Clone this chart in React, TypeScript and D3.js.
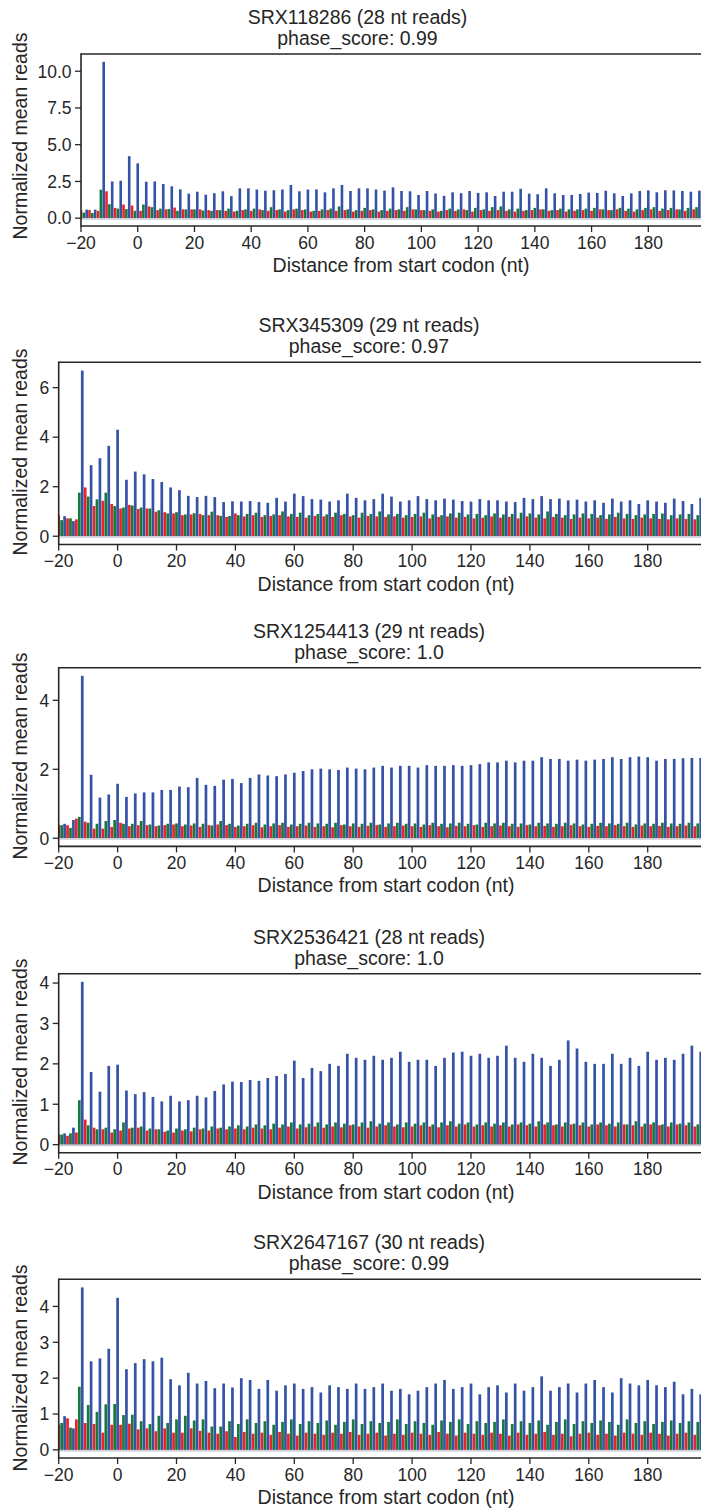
import React from "react";
import * as d3 from "d3";

// ---------- data ----------
const X_MIN = -20;
const X_MAX = 200;
const X_TICKS = [-20, 0, 20, 40, 60, 80, 100, 120, 140, 160, 180];
const FRAME_START = [-18, -20, -19]; // frame 0 (blue), frame 1 (red), frame 2 (green)

const TITLES = [
  "SRX118286 (28 nt reads)",
  "SRX345309 (29 nt reads)",
  "SRX1254413 (29 nt reads)",
  "SRX2536421 (28 nt reads)",
  "SRX2647167 (30 nt reads)",
];
const PHASE_SCORES = ["0.99", "0.97", "1.0", "1.0", "0.99"];

const Y_TICKS_1 = [0, 2.5, 5, 7.5, 10];
const Y_TICKS_2 = [0, 2, 4, 6];
const Y_TICKS_3 = [0, 2, 4];
const Y_TICKS_4 = [0, 1, 2, 3, 4];
const Y_TICKS_5 = [0, 1, 2, 3, 4];

// SRX118286
const P1_BLUE = [
  0.58, 0.58, 10.64, 2.5, 2.55, 4.22, 3.73, 2.48, 2.5, 2.33,
  2.17, 1.96, 1.67, 1.8, 1.6, 1.7, 1.83, 1.5, 2.03, 2.03,
  1.95, 1.87, 1.9, 1.95, 2.26, 1.83, 1.95, 1.96, 1.76, 2.03,
  2.26, 1.85, 2.03, 2.03, 1.95, 1.88, 2.1, 1.85, 1.83, 1.58,
  1.85, 1.68, 1.52, 1.76, 1.7, 1.85, 1.72, 1.76, 1.51, 1.8,
  1.8, 2.0, 1.67, 1.63, 2.03, 1.69, 1.58, 1.58, 1.65, 1.74,
  1.72, 1.87, 1.69, 1.51, 1.69, 1.85, 1.89, 1.76, 1.9, 1.89,
  1.85, 1.8, 1.87,
];
const P1_RED = [
  0.55, 0.55, 0.5, 1.83, 0.7, 0.93, 0.86, 0.5, 0.8, 0.55,
  0.6, 0.72, 0.6, 0.6, 0.6, 0.55, 0.55, 0.5, 0.45, 0.55,
  0.5, 0.6, 0.5, 0.55, 0.45, 0.6, 0.55, 0.45, 0.5, 0.55,
  0.5, 0.55, 0.45, 0.5, 0.55, 0.45, 0.5, 0.55, 0.5, 0.6,
  0.55, 0.5, 0.45, 0.55, 0.5, 0.6, 0.45, 0.55, 0.5, 0.55,
  0.5, 0.45, 0.5, 0.55, 0.6, 0.5, 0.55, 0.45, 0.5, 0.55,
  0.5, 0.6, 0.55, 0.6, 0.5, 0.45, 0.55, 0.6, 0.5, 0.55,
  0.6, 0.5, 0.6,
];
const P1_GREEN = [
  0.38, 0.35, 1.94, 0.95, 0.65, 0.62, 0.5, 0.93, 0.75, 0.65,
  0.62, 0.5, 0.6, 0.6, 0.52, 0.5, 0.55, 0.65, 0.5, 0.6,
  0.65, 0.55, 0.75, 0.6, 0.55, 0.65, 0.6, 0.5, 0.6, 0.65,
  0.8, 0.6, 0.55, 0.7, 0.6, 0.55, 0.65, 0.6, 0.75, 0.6,
  0.55, 0.6, 0.5, 0.65, 0.6, 0.55, 0.7, 0.6, 0.75, 0.8,
  0.6, 0.65, 0.55, 0.7, 0.6, 0.55, 0.65, 0.6, 0.6, 0.65,
  0.7, 0.6, 0.55, 0.7, 0.65, 0.6, 0.7, 0.75, 0.65, 0.7,
  0.6, 0.7, 0.75,
];

// SRX345309
const P2_BLUE = [
  0.81, 0.61, 6.69, 2.87, 3.15, 3.65, 4.3, 2.28, 2.61, 2.5,
  2.31, 2.19, 1.97, 1.86, 1.63, 1.58, 1.63, 1.58, 1.38, 1.41,
  1.4, 1.42, 1.38, 1.35, 1.55, 1.4, 1.72, 1.62, 1.5, 1.48,
  1.4, 1.45, 1.72, 1.55, 1.45, 1.5, 1.72, 1.6, 1.4, 1.45,
  1.62, 1.5, 1.45, 1.52, 1.48, 1.42, 1.4, 1.5, 1.45, 1.45,
  1.4, 1.38, 1.55, 1.5, 1.62, 1.5, 1.52, 1.45, 1.48, 1.4,
  1.45, 1.35, 1.52, 1.4, 1.45, 1.3, 1.45, 1.4, 1.35, 1.52,
  1.42, 1.3, 1.55,
];
const P2_RED = [
  0.85, 0.72, 0.68, 1.97, 1.22, 1.43, 1.3, 1.12, 1.26, 1.1,
  1.12, 0.99, 0.97, 0.92, 0.85, 0.88, 0.9, 0.85, 0.85, 0.78,
  0.92, 0.8, 0.85, 0.78, 0.82, 0.85, 0.8, 0.78, 0.75, 0.82,
  0.8, 0.78, 0.85, 0.8, 0.75, 0.82, 0.8, 0.78, 0.8, 0.75,
  0.78, 0.8, 0.72, 0.78, 0.8, 0.75, 0.78, 0.72, 0.75, 0.8,
  0.75, 0.78, 0.72, 0.8, 0.75, 0.72, 0.78, 0.75, 0.7, 0.75,
  0.72, 0.75, 0.7, 0.78, 0.72, 0.7, 0.75, 0.72, 0.7, 0.68,
  0.72, 0.7, 0.68,
];
const P2_GREEN = [
  0.65, 0.72, 1.76, 1.6, 1.49, 1.76, 1.22, 1.16, 1.24, 1.16,
  1.12, 1.05, 0.92, 0.97, 0.88, 0.93, 0.85, 0.99, 0.82, 0.82,
  0.85, 0.9, 0.95, 0.85, 0.88, 1.0, 0.9, 0.95, 0.85, 0.9,
  0.88, 0.95, 0.9, 0.85, 0.95, 0.9, 1.0, 0.88, 0.9, 0.85,
  0.9, 0.95, 0.88, 0.85, 0.92, 0.95, 0.88, 0.9, 0.85, 0.92,
  0.88, 0.9, 0.95, 0.92, 0.88, 1.0, 0.9, 0.85, 0.88, 0.92,
  0.9, 0.85, 0.88, 0.95, 0.9, 0.85, 0.88, 0.9, 0.92, 0.85,
  0.88, 0.9, 0.85,
];

// SRX1254413
const P3_BLUE = [
  0.42, 0.53, 4.71, 1.84, 1.18, 1.27, 1.58, 1.2, 1.3, 1.33,
  1.33, 1.4, 1.4, 1.5, 1.48, 1.75, 1.55, 1.52, 1.7, 1.72,
  1.6, 1.75, 1.85, 1.82, 1.8, 1.85, 1.9, 1.95, 2.0, 2.02,
  2.0, 1.98, 2.05, 2.02, 2.0, 2.05, 2.1, 2.05, 2.1, 2.1,
  2.05, 2.12, 2.1, 2.1, 2.12, 2.1, 2.12, 2.15, 2.2, 2.2,
  2.25, 2.2, 2.25, 2.25, 2.35, 2.3, 2.3, 2.25, 2.28, 2.25,
  2.28, 2.3, 2.35, 2.3, 2.35, 2.37, 2.35, 2.25, 2.3, 2.3,
  2.32, 2.33, 2.33,
];
const P3_RED = [
  0.38, 0.38, 0.57, 0.48, 0.28, 0.28, 0.33, 0.45, 0.35, 0.38,
  0.38, 0.35, 0.38, 0.4, 0.35, 0.37, 0.33, 0.38, 0.4, 0.38,
  0.33, 0.35, 0.38, 0.32, 0.35, 0.38, 0.33, 0.35, 0.37, 0.33,
  0.35, 0.32, 0.38, 0.35, 0.33, 0.36, 0.38, 0.33, 0.35, 0.37,
  0.35, 0.33, 0.38, 0.35, 0.32, 0.36, 0.35, 0.38, 0.33, 0.35,
  0.37, 0.35, 0.33, 0.38, 0.35, 0.36, 0.33, 0.35, 0.38, 0.35,
  0.33, 0.36, 0.35, 0.38, 0.35, 0.33, 0.37, 0.35, 0.36, 0.33,
  0.35, 0.37, 0.35,
];
const P3_GREEN = [
  0.38, 0.3, 0.62, 0.45, 0.42, 0.5, 0.53, 0.42, 0.42, 0.5,
  0.4, 0.37, 0.42, 0.43, 0.4, 0.43, 0.42, 0.37, 0.5, 0.42,
  0.37, 0.42, 0.45, 0.4, 0.43, 0.45, 0.4, 0.42, 0.45, 0.43,
  0.42, 0.45, 0.4, 0.43, 0.42, 0.45, 0.4, 0.43, 0.45, 0.42,
  0.43, 0.4, 0.45, 0.42, 0.43, 0.45, 0.42, 0.4, 0.45, 0.43,
  0.45, 0.42, 0.43, 0.4, 0.45, 0.43, 0.42, 0.45, 0.43, 0.4,
  0.42, 0.45, 0.43, 0.42, 0.45, 0.4, 0.43, 0.42, 0.45, 0.43,
  0.42, 0.45, 0.43,
];

// SRX2536421
const P4_BLUE = [
  0.28, 0.42, 4.03, 1.8, 1.31, 1.95, 1.98, 1.34, 1.25, 1.3,
  1.18, 1.07, 1.21, 1.07, 1.1, 1.21, 1.17, 1.33, 1.49, 1.56,
  1.55, 1.6, 1.58, 1.65, 1.7, 1.75, 2.08, 1.65, 1.9, 1.82,
  2.0, 1.95, 2.25, 2.15, 2.1, 2.2, 2.1, 2.15, 2.3, 2.05,
  2.1, 2.1, 1.95, 2.15, 2.28, 2.3, 2.2, 2.25, 2.15, 2.2,
  2.45, 2.15, 2.05, 2.25, 2.15, 1.95, 2.1, 2.58, 2.38, 2.05,
  2.0, 2.0, 2.25, 2.0, 2.15, 1.95, 2.3, 2.1, 2.15, 2.1,
  2.25, 2.45, 2.3,
];
const P4_RED = [
  0.25, 0.22, 0.3, 0.62, 0.42, 0.38, 0.3, 0.35, 0.4, 0.42,
  0.35, 0.38, 0.32, 0.3, 0.35, 0.33, 0.38, 0.35, 0.4, 0.38,
  0.4, 0.38, 0.42, 0.4, 0.38, 0.42, 0.45, 0.4, 0.43, 0.45,
  0.42, 0.45, 0.43, 0.48, 0.45, 0.42, 0.45, 0.48, 0.45, 0.43,
  0.45, 0.48, 0.45, 0.43, 0.48, 0.45, 0.5, 0.45, 0.48, 0.45,
  0.48, 0.45, 0.5, 0.48, 0.45, 0.5, 0.48, 0.45, 0.5, 0.48,
  0.45, 0.5, 0.48, 0.45, 0.5, 0.48, 0.45, 0.5, 0.48, 0.45,
  0.5, 0.48, 0.45,
];
const P4_GREEN = [
  0.25, 0.28, 1.1, 0.48, 0.38, 0.42, 0.38, 0.55, 0.42, 0.45,
  0.4, 0.38, 0.35, 0.4, 0.38, 0.42, 0.4, 0.45, 0.42, 0.45,
  0.48, 0.45, 0.5, 0.48, 0.52, 0.5, 0.55, 0.5, 0.52, 0.55,
  0.5, 0.55, 0.52, 0.5, 0.55, 0.58, 0.52, 0.55, 0.5, 0.55,
  0.52, 0.55, 0.5, 0.55, 0.58, 0.52, 0.55, 0.5, 0.55, 0.52,
  0.55, 0.5, 0.55, 0.52, 0.58, 0.55, 0.5, 0.55, 0.52, 0.55,
  0.5, 0.55, 0.52, 0.55, 0.5, 0.58, 0.52, 0.55, 0.5, 0.55,
  0.52, 0.55, 0.5,
];

// SRX2647167
const P5_BLUE = [
  0.94, 0.6, 4.53, 2.47, 2.55, 2.82, 4.24, 2.25, 2.42, 2.53,
  2.47, 2.57, 1.97, 1.8, 2.15, 1.85, 1.92, 1.72, 1.85, 1.74,
  2.0, 1.95, 1.7, 1.95, 1.65, 1.8, 1.85, 1.7, 1.75, 1.6,
  1.8, 1.75, 1.7, 1.85, 1.7, 1.75, 1.85, 1.65, 1.7, 1.55,
  1.65, 1.75, 1.85, 1.95, 1.7, 1.75, 1.85, 1.55, 1.75, 1.8,
  1.6, 1.85, 1.65, 1.75, 2.05, 1.65, 1.75, 1.85, 1.6, 1.85,
  1.95, 1.75, 1.6, 2.0, 1.85, 1.8, 1.95, 1.8, 1.75, 1.9,
  1.55, 1.7, 1.55,
];
const P5_RED = [
  0.7, 0.88, 0.85, 0.75, 0.72, 0.48, 0.7, 0.7, 0.73, 0.57,
  0.6, 0.52, 0.6, 0.48, 0.48, 0.6, 0.53, 0.48, 0.45, 0.52,
  0.36, 0.5, 0.45, 0.48, 0.42, 0.5, 0.45, 0.4, 0.48, 0.45,
  0.42, 0.48, 0.45, 0.5, 0.42, 0.45, 0.48, 0.4, 0.45, 0.42,
  0.48, 0.45, 0.42, 0.5, 0.45, 0.4, 0.48, 0.45, 0.42, 0.48,
  0.45, 0.4, 0.48, 0.42, 0.45, 0.5, 0.42, 0.45, 0.38, 0.45,
  0.48, 0.42, 0.45, 0.4, 0.48, 0.45, 0.42, 0.48, 0.45, 0.4,
  0.45, 0.48, 0.42,
];
const P5_GREEN = [
  0.75, 0.62, 1.76, 1.25, 1.06, 1.27, 1.28, 0.97, 0.98, 0.8,
  0.72, 0.95, 0.75, 0.85, 0.95, 0.82, 0.85, 0.65, 0.65, 0.8,
  0.72, 0.85, 0.75, 0.8, 0.7, 0.78, 0.85, 0.72, 0.8, 0.75,
  0.82, 0.7, 0.78, 0.85, 0.72, 0.8, 0.75, 0.78, 0.85, 0.72,
  0.8, 0.75, 0.7, 0.82, 0.78, 0.85, 0.72, 0.8, 0.75, 0.78,
  0.85, 0.72, 0.8, 0.75, 0.82, 0.7, 0.78, 0.85, 0.72, 0.8,
  0.75, 0.82, 0.78, 0.7, 0.85, 0.75, 0.8, 0.72, 0.78, 0.82,
  0.75, 0.8, 0.78,
];

// ---------- style / layout ----------
const FRAME_COLORS = ["#3553a6", "#e8232b", "#17793c"];
const TEXT = "#262626";
const FONT = "'Liberation Sans', Arial, Helvetica, sans-serif";
const BAR_W = 0.92;

type PanelCfg = {
  title: string;
  score: string;
  frames: number[][];
  yTicks: number[];
  fmt: (v: number) => string;
  left: number;
  ppn: number;
  top: number;
  bottom: number;
  titleX: number;
  xLabelX: number;
  yLabelY: number;
  tickLen: number;
};

const fmt1 = d3.format(".1f");
const fmt0 = d3.format("d");

const PANELS: PanelCfg[] = [
  { title: TITLES[0], score: PHASE_SCORES[0], frames: [P1_BLUE, P1_RED, P1_GREEN], yTicks: Y_TICKS_1, fmt: fmt1,
    left: 81, ppn: 2.8365, top: 54, bottom: 226, titleX: 357.5, xLabelX: 401, yLabelY: 136, tickLen: 6 },
  { title: TITLES[1], score: PHASE_SCORES[1], frames: [P2_BLUE, P2_RED, P2_GREEN], yTicks: Y_TICKS_2, fmt: fmt0,
    left: 58.7, ppn: 2.945, top: 362.3, bottom: 544.5, titleX: 369, xLabelX: 386, yLabelY: 452, tickLen: 6 },
  { title: TITLES[2], score: PHASE_SCORES[2], frames: [P3_BLUE, P3_RED, P3_GREEN], yTicks: Y_TICKS_3, fmt: fmt0,
    left: 58.7, ppn: 2.945, top: 667.7, bottom: 846.4, titleX: 369, xLabelX: 386, yLabelY: 756, tickLen: 6 },
  { title: TITLES[3], score: PHASE_SCORES[3], frames: [P4_BLUE, P4_RED, P4_GREEN], yTicks: Y_TICKS_4, fmt: fmt0,
    left: 58.7, ppn: 2.945, top: 973.7, bottom: 1152.8, titleX: 369, xLabelX: 386, yLabelY: 1062, tickLen: 6 },
  { title: TITLES[4], score: PHASE_SCORES[4], frames: [P5_BLUE, P5_RED, P5_GREEN], yTicks: Y_TICKS_5, fmt: fmt0,
    left: 58.7, ppn: 2.945, top: 1279.3, bottom: 1458, titleX: 369, xLabelX: 386, yLabelY: 1368, tickLen: 6 },
];

const minusFmt = (v: number) => (v < 0 ? "\u2212" + Math.abs(v) : String(v));

function Panel({ cfg, idx }: { cfg: PanelCfg; idx: number }) {
  const x = d3
    .scaleLinear()
    .domain([X_MIN, X_MAX])
    .range([cfg.left, cfg.left + (X_MAX - X_MIN) * cfg.ppn]);
  const maxV = d3.max(cfg.frames.flat()) as number;
  const y = d3
    .scaleLinear()
    .domain([-0.05 * maxV, 1.05 * maxV])
    .range([cfg.bottom, cfg.top]);
  const clipId = `clip-${idx}`;
  const [x0, x1] = x.range();
  const y0 = y(0);

  const bars: React.ReactNode[] = [];
  cfg.frames.forEach((vals, f) => {
    vals.forEach((v, i) => {
      const pos = FRAME_START[f] + 3 * i;
      const xa = x(pos - BAR_W / 2);
      const xb = x(pos + BAR_W / 2);
      bars.push(
        <rect
          key={`${f}-${i}`}
          x={xa}
          y={y(v)}
          width={xb - xa}
          height={y0 - y(v)}
          fill={FRAME_COLORS[f]}
        />
      );
    });
  });

  return (
    <g>
      <defs>
        <clipPath id={clipId}>
          <rect x={x0} y={cfg.top} width={x1 - x0} height={cfg.bottom - cfg.top} />
        </clipPath>
      </defs>
      <text x={cfg.titleX} y={cfg.top - 30} textAnchor="middle" fontSize={19.5} fill={TEXT}>
        {cfg.title}
      </text>
      <text x={cfg.titleX} y={cfg.top - 9} textAnchor="middle" fontSize={19.5} fill={TEXT}>
        {`phase_score: ${cfg.score}`}
      </text>
      <g clipPath={`url(#${clipId})`}>
        {bars}
        <line x1={x0} x2={x1} y1={y0 + 0.75} y2={y0 + 0.75} stroke="#c9cdd8" strokeWidth={1.5} />
      </g>
      {/* spines */}
      <line x1={x0} x2={x1 + 5} y1={cfg.top} y2={cfg.top} stroke={TEXT} strokeWidth={1.6} />
      <line x1={x0} x2={x1 + 5} y1={cfg.bottom} y2={cfg.bottom} stroke={TEXT} strokeWidth={1.6} />
      <line x1={x0} x2={x0} y1={cfg.top - 0.8} y2={cfg.bottom + 0.8} stroke={TEXT} strokeWidth={1.6} />
      {/* y ticks */}
      {cfg.yTicks.map((t) => (
        <g key={`y${t}`}>
          <line x1={x0 - cfg.tickLen} x2={x0} y1={y(t)} y2={y(t)} stroke={TEXT} strokeWidth={1.3} />
          <text x={x0 - cfg.tickLen - 3.5} y={y(t) + 6.3} textAnchor="end" fontSize={17.5} fill={TEXT}>
            {cfg.fmt(t)}
          </text>
        </g>
      ))}
      {/* x ticks */}
      {X_TICKS.map((t) => (
        <g key={`x${t}`}>
          <line x1={x(t)} x2={x(t)} y1={cfg.bottom} y2={cfg.bottom + cfg.tickLen} stroke={TEXT} strokeWidth={1.3} />
          <text x={x(t)} y={cfg.bottom + 22.5} textAnchor="middle" fontSize={17.5} fill={TEXT}>
            {minusFmt(t)}
          </text>
        </g>
      ))}
      <text x={cfg.xLabelX} y={cfg.bottom + 46} textAnchor="middle" fontSize={19.5} fill={TEXT}>
        Distance from start codon (nt)
      </text>
      <text
        transform={`translate(${27},${cfg.yLabelY}) rotate(-90)`}
        textAnchor="middle"
        fontSize={19.5}
        fill={TEXT}
      >
        Normalized mean reads
      </text>
    </g>
  );
}

export default function App() {
  return (
    <svg
      width={701}
      height={1511}
      viewBox="0 0 701 1511"
      style={{ position: "absolute", left: 0, top: 0, background: "#fff", fontFamily: FONT }}
    >
      <rect x={0} y={0} width={701} height={1511} fill="#fff" />
      {PANELS.map((p, i) => (
        <Panel key={i} cfg={p} idx={i} />
      ))}
    </svg>
  );
}
